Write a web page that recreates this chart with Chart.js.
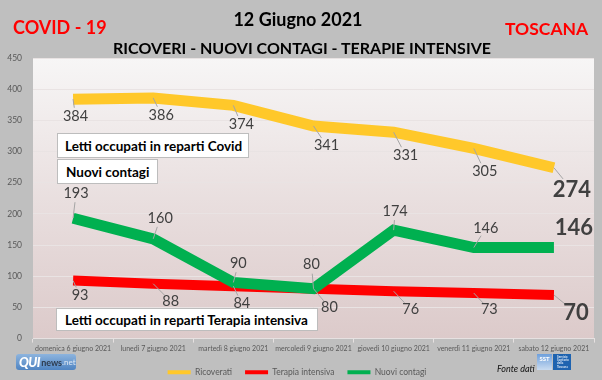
<!DOCTYPE html>
<html>
<head>
<meta charset="utf-8">
<script src="https://cdn.jsdelivr.net/npm/chart.js@4/dist/chart.umd.min.js"></script>
<style>
  html, body { margin: 0; padding: 0; }
  body { width: 602px; height: 380px; background: #bfbfbf; overflow: hidden; }
  #wrap { position: relative; width: 602px; height: 380px; }
  #wrap canvas { position: absolute; left: 0; top: 0; }
  .t { position: absolute; font-family: Lato, sans-serif; font-weight: 700; white-space: nowrap; line-height: 1; }
  .box { position: absolute; background: #ffffff; border: 1px solid #bdbdbd; box-sizing: border-box;
         font-family: Lato, sans-serif; font-weight: 700; font-size: 13.5px; color: #000;
         display: flex; align-items: center; white-space: nowrap; z-index: 2; }
  #qui { position: absolute; left: 16px; top: 354px; width: 60px; height: 16px; border-radius: 3px;
         background: linear-gradient(#8db4de, #4f84c2); font-family: Lato, sans-serif; z-index: 2;
         display: flex; align-items: center; padding-left: 3px; box-sizing: border-box; }
  #qui .q { color: #fff; font-weight: 900; font-style: italic; font-size: 13px; letter-spacing: -0.5px; }
  #qui .n { color: #2d3b4e; font-weight: 700; font-size: 9px; margin-left: 1px; }
  #qui .d { color: #dfe9f5; font-size: 8px; }
  #fonte { position: absolute; left: 497px; top: 364px; font-family: Lato, sans-serif; font-style: italic;
           font-size: 9px; color: #111; line-height: 1; z-index: 2; }
  #sst1 { position: absolute; left: 537px; top: 354px; width: 15px; height: 16px; background: linear-gradient(#6fa0dc,#c9dbf0);
          color: #fff; font: 700 6px Lato, sans-serif; text-align: center; line-height: 9px; z-index: 2; }
  #sst2 { position: absolute; left: 553px; top: 354px; width: 18px; height: 16px; background: #1e63b0; z-index: 2;
          color: #dbe7f5; font: 700 3px Lato, sans-serif; line-height: 3.2px; padding: 2px 0 0 4px; box-sizing: border-box; }
</style>
</head>
<body>
<div id="wrap">
  <canvas id="c" width="602" height="380"></canvas>
  <div class="t" style="left:13px; top:18px; font-size:18px; color:#ff0000;">COVID - 19</div>
  <div class="t" style="left:0; width:596px; text-align:center; top:9.5px; font-size:18px; color:#000;">12 Giugno 2021</div>
  <div class="t" style="left:505px; top:20px; font-size:17.5px; color:#ff0000;">TOSCANA</div>
  <div class="t" style="left:0; width:604px; text-align:center; top:40px; font-size:16px; color:#000;">RICOVERI - NUOVI CONTAGI - TERAPIE INTENSIVE</div>
  <div class="box" style="left:57px; top:133px; width:192px; height:25px; padding-left:7px;">Letti occupati in reparti Covid</div>
  <div class="box" style="left:57px; top:159px; width:101px; height:25px; padding-left:8px;">Nuovi contagi</div>
  <div class="box" style="left:56px; top:308px; width:262px; height:23px; padding-left:8px;">Letti occupati in reparti Terapia intensiva</div>
  <div id="qui"><span class="q">QUI</span><span class="n">news</span><span class="d">.net</span></div>
  <div id="fonte">Fonte dati</div>
  <div id="sst1">SST</div>
  <div id="sst2">Servizio<br>Sanitario<br>della<br>Toscana</div>
</div>
<script>
// ---- data ----
const categories = [
  'domenica 6 giugno 2021',
  'lunedì 7 giugno 2021',
  'martedì 8 giugno 2021',
  'mercoledì 9 giugno 2021',
  'giovedì 10 giugno 2021',
  'venerdì 11 giugno 2021',
  'sabato 12 giugno 2021'
];
const ricoverati = [384, 386, 374, 341, 331, 305, 274];
const terapiaIntensiva = [93, 88, 84, 80, 76, 73, 70];
const nuoviContagi = [193, 160, 90, 80, 174, 146, 146];
const yTicks = [0, 50, 100, 150, 200, 250, 300, 350, 400, 450];

// ---- label placement (pixel offsets from each point) ----
const labelOffsets = {
  Ricoverati: [[2.5,17.5],[8,17],[8,19],[13,19.5],[12,23],[11,23],[18,22]],
  'Terapia intensiva': [[7,15],[17.5,17.7],[8.5,17.5],[16,19],[17,18],[15.5,16.5],[22,18]],
  'Nuovi contagi': [[3,-25],[7,-20.5],[5,-19],[-2,-24],[1.5,-19],[12,-19.5],[20,-20]]
};

const plotBg = {
  id: 'plotBg',
  beforeDraw(chart) {
    const {ctx, chartArea: a} = chart;
    const g = ctx.createLinearGradient(0, a.top, 0, a.bottom);
    g.addColorStop(0, '#f7f6f6');
    g.addColorStop(0.5, '#e9dfdf');
    g.addColorStop(1, '#dccaca');
    ctx.save();
    ctx.fillStyle = g;
    ctx.fillRect(a.left, a.top, a.right - a.left, a.bottom - a.top);
    ctx.restore();
  }
};

const pointLabels = {
  id: 'pointLabels',
  afterDatasetsDraw(chart) {
    const ctx = chart.ctx;
    ctx.save();
    chart.data.datasets.forEach((ds, di) => {
      const meta = chart.getDatasetMeta(di);
      const offs = labelOffsets[ds.label];
      meta.data.forEach((pt, j) => {
        const last = j === meta.data.length - 1;
        const [dx, dy] = offs[j];
        const lx = pt.x + dx, ly = pt.y + dy;
        if (!(last && ds.label === 'Nuovi contagi')) {
          const len = Math.hypot(dx, dy);
          const r = last ? 14 : 9;
          if (len > r + 2) {
            ctx.strokeStyle = '#a5a5a5';
            ctx.lineWidth = 1;
            ctx.beginPath();
            ctx.moveTo(pt.x, pt.y);
            ctx.lineTo(lx - dx / len * r, ly - dy / len * r);
            ctx.stroke();
          }
        }
        ctx.fillStyle = '#404040';
        ctx.font = last ? '700 22px Lato, sans-serif' : '400 14.5px Lato, sans-serif';
        ctx.textAlign = 'center';
        ctx.textBaseline = 'middle';
        ctx.fillText(String(ds.data[j]), lx, ly);
      });
    });
    ctx.restore();
  }
};

new Chart(document.getElementById('c'), {
  type: 'line',
  data: {
    labels: categories,
    datasets: [
      { label: 'Ricoverati', data: ricoverati, borderColor: '#ffc82a', backgroundColor: '#ffc82a',
        borderWidth: 11, pointRadius: 0, tension: 0, order: 2 },
      { label: 'Terapia intensiva', data: terapiaIntensiva, borderColor: '#ff0000', backgroundColor: '#ff0000',
        borderWidth: 10, pointRadius: 0, tension: 0, order: 1 },
      { label: 'Nuovi contagi', data: nuoviContagi, borderColor: '#00b050', backgroundColor: '#00b050',
        borderWidth: 11, pointRadius: 0, tension: 0, order: 0 }
    ]
  },
  options: {
    responsive: false,
    animation: false,
    devicePixelRatio: 1,
    layout: { padding: { top: 58, right: 8, left: 0, bottom: -6.5 } },
    scales: {
      x: {
        type: 'category',
        offset: true,
        grid: { display: true, drawOnChartArea: false, offset: true, tickLength: 4, color: '#e6e1e1' },
        border: { color: '#e6e1e1' },
        ticks: { autoSkip: false, maxRotation: 0, minRotation: 0, padding: 2, color: '#595959',
                 font: { family: 'Lato, sans-serif', size: 7 } }
      },
      y: {
        min: 0, max: 450,
        afterFit(scale) { scale.width = 33; },
        afterBuildTicks(scale) { scale.ticks = yTicks.map(v => ({ value: v })); },
        grid: { color: '#e9e3e3', drawTicks: false },
        border: { display: false },
        ticks: { padding: 11, color: '#595959', font: { family: 'Lato, sans-serif', size: 8.5 } }
      }
    },
    plugins: {
      title: { display: false },
      tooltip: { enabled: false },
      legend: {
        position: 'bottom',
        labels: {
          boxWidth: 23, boxHeight: 4, padding: 13, color: '#595959',
          font: { family: 'Lato, sans-serif', size: 8.5 },
          generateLabels(chart) {
            const items = Chart.defaults.plugins.legend.labels.generateLabels(chart);
            items.forEach(it => { it.lineWidth = 0; it.strokeStyle = 'rgba(0,0,0,0)'; });
            return items.sort((a, b) => a.datasetIndex - b.datasetIndex);
          }
        }
      }
    }
  },
  plugins: [plotBg, pointLabels]
});
</script>
</body>
</html>
